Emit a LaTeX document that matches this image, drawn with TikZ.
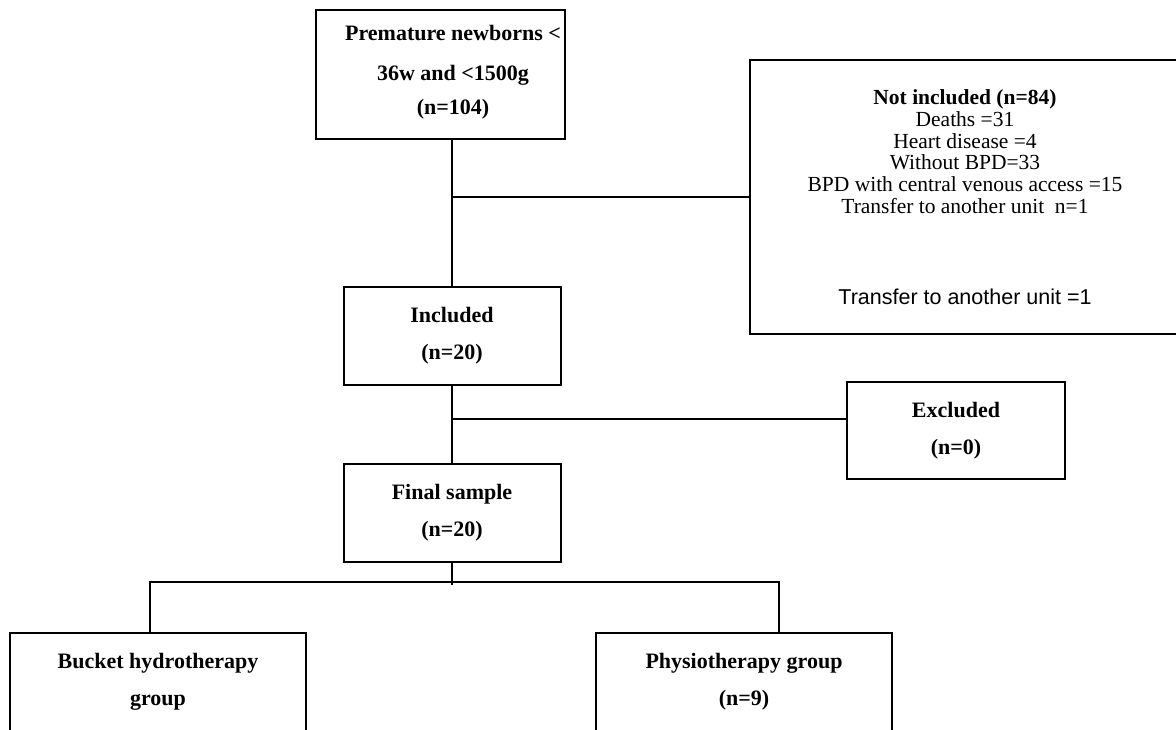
\documentclass[tikz,border=0pt]{standalone}
\usepackage{fontspec}
\setmainfont{Liberation Serif}
\newfontfamily\arialfont{Liberation Sans}
\usetikzlibrary{calc}
\begin{document}
\begin{tikzpicture}[x=1pt,y=-1pt,
  box/.style={draw, line width=2pt, inner sep=0pt, align=center},
  conn/.style={line width=1.3pt},
  bt/.style={font=\fontsize{22}{37}\selectfont\bfseries}]
\useasboundingbox (0,0) rectangle (1176,729);
\clip (0,0) rectangle (1176,729);

% boxes
\node[box, minimum width=249pt, minimum height=129pt] (top) at (440.5,74.5) {};
\node[align=center, font=\fontsize{22}{34}\selectfont\bfseries] (toptxt) at (453,72)
  {Premature newborns <\\[6pt]36w and <1500g\\(n=104)};

\node[box, minimum width=430pt, minimum height=274pt,
      font=\fontsize{21.5}{21.8}\selectfont] (notinc) at (965,197)
  {{\bfseries Not included (n=84)}\\Deaths =31\\Heart disease =4\\Without BPD=33\\
   BPD with central venous access =15\\Transfer to another unit\ \ n=1\\[69pt]
   {\arialfont Transfer to another unit =1}};

\node[box, bt, minimum width=217pt, minimum height=98pt] (inc) at (452,336)
  {Included\\(n=20)};
\node[box, bt, minimum width=218pt, minimum height=97pt] (exc) at (956,430.5)
  {Excluded\\(n=0)};
\node[box, bt, minimum width=217pt, minimum height=98pt] (fin) at (452,513)
  {Final sample\\(n=20)};
\node[box, bt, minimum width=296pt, minimum height=98pt] (bucket) at (158,682)
  {Bucket hydrotherapy\\group};
\node[box, bt, minimum width=296pt, minimum height=98pt] (phys) at (744,682)
  {Physiotherapy group\\(n=9)};

% connectors
\draw[conn] (top.south -| inc.north) -- (inc.north);
\draw[conn] (notinc.west) -- (notinc.west -| inc.north);
\draw[conn] (inc.south) -- (fin.north);
\coordinate (j2) at ($(inc.south)!0.43!(fin.north)$);
\draw[conn] (j2) -- (j2 -| exc.west);
\coordinate (j3) at (452,582);
\draw[conn] (fin.south) -- ([yshift=-3pt]j3);
\coordinate (bl) at (150,582);
\coordinate (br) at (779,582);
\draw[conn] (bucket.north -| bl) -- (bl) -- (br) -- (br |- phys.north);
\end{tikzpicture}
\end{document}
